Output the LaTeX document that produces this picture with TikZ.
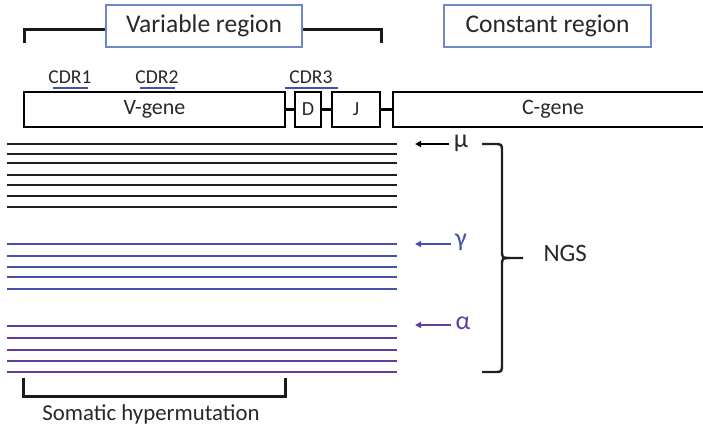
\documentclass[tikz,border=0pt]{standalone}
\usepackage{fontspec}
\setmainfont{Carlito}
\usetikzlibrary{arrows.meta,decorations.pathreplacing}
\definecolor{seqblue}{RGB}{68,80,170}
\definecolor{seqpurple}{RGB}{98,60,158}
\definecolor{boxblue}{RGB}{110,135,200}
\definecolor{txt}{RGB}{40,40,40}
\tikzset{
  regionbox/.style={draw=boxblue,line width=1.1pt,fill=white,minimum height=42pt,inner sep=0pt,text=txt},
  genebox/.style={draw=black,line width=2.8pt,minimum height=35pt,inner sep=0pt,text=txt},
  bracketline/.style={line width=3pt,draw=black!90},
  seqline/.style={line width=2.4pt},
  isoarrow/.style={line width=1.8pt,-{Triangle[length=6pt,width=6pt]}},
  cdrline/.style={draw=seqblue,line width=2pt},
}
\begin{document}
\begin{tikzpicture}[x=1pt,y=-1pt]
\useasboundingbox (0,0) rectangle (703,429);
\clip (0,0) rectangle (703,429);
% top bracket
\coordinate (vbl) at (24,43);
\coordinate (vbr) at (381,43);
\draw[bracketline] (vbl) -- (24,29) -- (381,29) -- (vbr);
\node[regionbox,minimum width=196pt,font=\fontsize{25.5}{30}\selectfont] (var) at (204,26) {Variable region};
\node[regionbox,minimum width=207pt,font=\fontsize{25.5}{30}\selectfont] (const) at (547.5,26) {Constant region};
% CDR labels
\node[text=txt,font=\fontsize{19.6}{22}\selectfont] (cdr1) at (70,77) {CDR1};
\node[text=txt,font=\fontsize{19.6}{22}\selectfont] (cdr2) at (157,77) {CDR2};
\node[text=txt,font=\fontsize{19.6}{22}\selectfont] (cdr3) at (311,77) {CDR3};
\coordinate (c1a) at (53,88); \coordinate (c1b) at (88,88);
\coordinate (c2a) at (140,88); \coordinate (c2b) at (175,88);
\coordinate (c3a) at (285,88); \coordinate (c3b) at (338,88);
\draw[cdrline] (c1a) -- (c1b);
\draw[cdrline] (c2a) -- (c2b);
\draw[cdrline] (c3a) -- (c3b);
% gene boxes
\node[genebox,minimum width=261pt,font=\fontsize{22}{26}\selectfont] (vgene) at (154.5,109.5) {V-gene};
\node[genebox,minimum width=26pt,font=\fontsize{20}{24}\selectfont] (dgene) at (308,109.5) {D};
\node[genebox,minimum width=48pt,font=\fontsize{20}{24}\selectfont] (jgene) at (356,109.5) {J};
\node[genebox,minimum width=330pt,font=\fontsize{22}{26}\selectfont,text width=316pt,align=left] (cgene) at (558,109.5) {\hspace*{122pt}C-gene};
\draw[line width=2.4pt] (vgene.east) -- (dgene.west);
\draw[line width=2.4pt] (dgene.east) -- (jgene.west);
\draw[line width=2.4pt] (jgene.east) -- (cgene.west);
% sequence lines
\foreach \y in {144,154,163,175,185,196,207} {\draw[seqline,black!88] (7,\y) -- (397,\y);}
\foreach \y in {244,256,267,277,289} {\draw[seqline,seqblue] (7,\y) -- (397,\y);}
\foreach \y in {326,338,350,361,372} {\draw[seqline,seqpurple] (7,\y) -- (397,\y);}
% isotype labels and arrows
\node[text=txt,font=\fontsize{26}{30}\selectfont] (mu) at (461,143) {μ};
\node[text=seqblue,font=\fontsize{26}{30}\selectfont] (gamma) at (461,242) {γ};
\node[text=seqpurple,font=\fontsize{26}{30}\selectfont] (alpha) at (463,323) {α};
\draw[isoarrow,black] (mu.west) ++(-1,1) -- (415,144);
\draw[isoarrow,seqblue] (gamma.west) ++(-1,2) -- (415,244);
\draw[isoarrow,seqpurple] (alpha.west) ++(-1,2) -- (415,325);
% NGS brace
\coordinate (bt) at (482,144);
\coordinate (bb) at (482,372);
\coordinate (btip) at (523,258);
\draw[line width=2.4pt,black!88] (bt) -- (494,144) .. controls (502,144) .. (502,152) -- (502,250) .. controls (502,258) .. (510,258) -- (btip);
\draw[line width=2.4pt,black!88] (bb) -- (494,372) .. controls (502,372) .. (502,364) -- (502,266) .. controls (502,258) .. (510,258);
\node[text=txt,font=\fontsize{25}{30}\selectfont,anchor=west] (ngs) at (540,253) {NGS};
% somatic hypermutation bracket
\coordinate (sl) at (23,378);
\coordinate (sr) at (285,378);
\draw[bracketline] (sl) -- (23,396) -- (285,396) -- (sr);
\node[text=txt,font=\fontsize{22.8}{27}\selectfont] (shm) at (151,414) {Somatic hypermutation};
\end{tikzpicture}
\end{document}
